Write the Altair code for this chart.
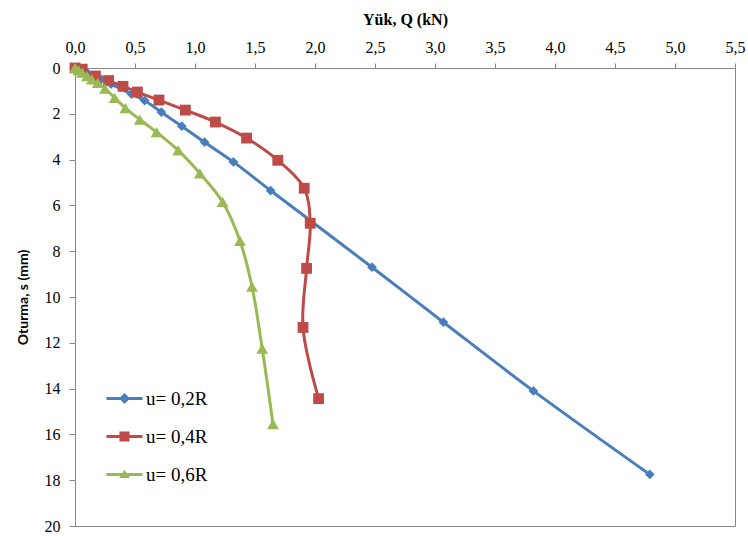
import altair as alt
import pandas as pd

series_names = ["u= 0,2R", "u= 0,4R", "u= 0,6R"]
colors = ["#4A7EBB", "#BE4B48", "#98B954"]

q_02 = [0, 0.05, 0.10, 0.16, 0.22, 0.30, 0.47, 0.58, 0.72, 0.89, 1.08, 1.32, 1.63, 2.475, 3.07, 3.82, 4.79]
s_02 = [0, 0.1, 0.2, 0.35, 0.5, 0.7, 1.14, 1.42, 1.93, 2.54, 3.24, 4.1, 5.35, 8.7, 11.1, 14.1, 17.75]

q_04 = [0, 0.06, 0.17, 0.28, 0.40, 0.52, 0.70, 0.92, 1.17, 1.43, 1.69, 1.91, 1.96, 1.93, 1.90, 2.03]
s_04 = [0, 0.05, 0.35, 0.55, 0.8, 1.05, 1.4, 1.84, 2.36, 3.06, 4.03, 5.25, 6.78, 8.75, 11.33, 14.44]

q_06 = [0, 0.03, 0.06, 0.10, 0.14, 0.19, 0.25, 0.33, 0.42, 0.54, 0.68, 0.86, 1.04, 1.23, 1.375, 1.475, 1.56, 1.65]
s_06 = [0, 0.1, 0.2, 0.35, 0.5, 0.65, 0.9, 1.3, 1.75, 2.25, 2.8, 3.6, 4.6, 5.85, 7.55, 9.55, 12.25, 15.55]

x_ticks = [0, 0.5, 1.0, 1.5, 2.0, 2.5, 3.0, 3.5, 4.0, 4.5, 5.0, 5.5]
y_ticks = [0, 2, 4, 6, 8, 10, 12, 14, 16, 18, 20]

rows = []
for name, qs, ss in zip(series_names, [q_02, q_04, q_06], [s_02, s_04, s_06]):
    for i, (q, s) in enumerate(zip(qs, ss)):
        rows.append({"seri": name, "Q": q, "s": s, "idx": i})
df = pd.DataFrame(rows)

color_scale = alt.Scale(domain=series_names, range=colors)

x_enc = alt.X("Q:Q", scale=alt.Scale(domain=[0, 5.5], nice=False),
              axis=alt.Axis(orient="top", values=x_ticks, title="Yük, Q (kN)",
                            labelExpr="replace(format(datum.value, '.1f'), '.', ',')",
                            titleFont="Liberation Serif", titleFontSize=16, titleFontWeight="bold",
                            titleColor="black", titlePadding=12,
                            labelFont="Liberation Serif", labelFontSize=16, labelColor="black",
                            labelPadding=8, tickSize=5, tickColor="#868686", domainColor="#868686",
                            grid=False, labelFlush=False))
y_enc = alt.Y("s:Q", scale=alt.Scale(domain=[0, 20], reverse=True, nice=False),
              axis=alt.Axis(values=y_ticks, title="Oturma, s (mm)",
                            titleFont="Lato", titleFontSize=14, titleFontWeight="bold",
                            titleColor="black", titlePadding=14,
                            labelFont="Liberation Serif", labelFontSize=16, labelColor="black",
                            labelPadding=9, tickSize=6, tickColor="#868686", domainColor="#868686",
                            grid=False))

base = alt.Chart(df)

lines = base.mark_line(interpolate="catmull-rom", strokeWidth=3).encode(
    x=x_enc, y=y_enc, order="idx:Q",
    color=alt.Color("seri:N", scale=color_scale, legend=None),
    detail="seri:N",
)

points = base.mark_point(filled=True, opacity=1).encode(
    x="Q:Q", y="s:Q",
    color=alt.Color("seri:N", scale=color_scale, legend=None),
    shape=alt.Shape("seri:N", scale=alt.Scale(domain=series_names,
                                               range=["diamond", "square", "triangle-up"]), legend=None),
    size=alt.Size("seri:N", scale=alt.Scale(domain=series_names, range=[95, 140, 115]), legend=None),
)

legend_paths = [
    "M-1,-0.085L1,-0.085L1,0.085L-1,0.085Z M0,-0.3L0.3,0L0,0.3L-0.3,0Z",
    "M-1,-0.085L1,-0.085L1,0.085L-1,0.085Z M-0.28,-0.28L0.28,-0.28L0.28,0.28L-0.28,0.28Z",
    "M-1,-0.085L1,-0.085L1,0.085L-1,0.085Z M0,-0.26L0.3,0.2L-0.3,0.2Z",
]

legend_layer = base.transform_filter("false").mark_point(filled=True, opacity=1).encode(
    x="Q:Q", y="s:Q",
    fill=alt.Fill("seri:N", scale=alt.Scale(domain=series_names, range=colors),
                  legend=alt.Legend(title=None, orient="none", legendX=31, legendY=312,
                                    symbolSize=1300, symbolStrokeWidth=0, symbolOpacity=1,
                                    labelFont="Liberation Serif", labelFontSize=19,
                                    labelColor="black", labelOffset=3, rowPadding=9)),
    shape=alt.Shape("seri:N", scale=alt.Scale(domain=series_names, range=legend_paths)),
)

chart = alt.layer(lines, points, legend_layer).resolve_scale(
    shape="independent", color="independent", fill="independent", size="independent"
).properties(
    width=660, height=458,
    padding={"left": 75, "top": 68, "right": 13, "bottom": 10},
    autosize=alt.AutoSizeParams(type="none"),
    background="white",
).configure_view(stroke="#868686", strokeWidth=1)

chart.save("out.html", embed_options={"renderer": "svg", "actions": False})
